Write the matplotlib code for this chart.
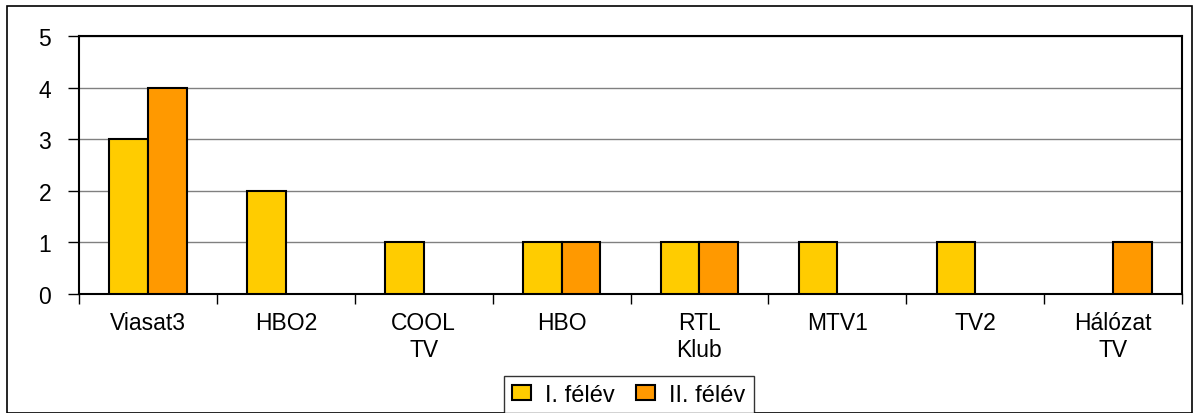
import matplotlib.pyplot as plt
import numpy as np
from matplotlib.patches import Rectangle

plt.rcParams['font.family'] = ['Liberation Sans', 'DejaVu Sans']

categories = ['Viasat3', 'HBO2', 'COOL\nTV', 'HBO', 'RTL\nKlub', 'MTV1', 'TV2', 'Hálózat\nTV']
felev1 = [3, 2, 1, 1, 1, 1, 1, 0]
felev2 = [4, 0, 0, 1, 1, 0, 0, 1]
series_names = ['I. félév', 'II. félév']
colors = ['#FFCC00', '#FF9900']

fig = plt.figure(figsize=(12, 4.14), dpi=100)
W, H = 1200, 414
# outer chart border
fig.patches.append(Rectangle((7 / W, 0.0), 1185 / W, 1 - 7 / H, transform=fig.transFigure,
                             fill=False, edgecolor='black', linewidth=1.2))

ax = fig.add_axes((79 / W, 1 - 295 / H, 1103 / W, 258 / H))
x = np.arange(len(categories))
w = 0.28
for vals, col, off, name in zip([felev1, felev2], colors, [-w / 2, w / 2], series_names):
    v = np.array(vals, dtype=float)
    mask = v > 0
    ax.bar(x[mask] + off, v[mask], width=w, color=col, edgecolor='black', linewidth=1.5,
           zorder=3, label=name)

ax.set_xlim(-0.5, len(categories) - 0.5)
ax.set_ylim(0, 5)
ax.set_yticks(range(6))
ax.yaxis.grid(True, color='#808080', linewidth=1, zorder=0)
ax.set_xticks(np.arange(len(categories) + 1) - 0.5, minor=False)
ax.set_xticklabels([])
ax.set_xticks(x, minor=True)
ax.set_xticklabels(categories, minor=True, fontsize=16.5, linespacing=1.25)
ax.tick_params(axis='x', which='minor', length=0, pad=12)
ax.tick_params(axis='x', which='major', length=7, width=1)
ax.tick_params(axis='y', labelsize=16.5, length=8, width=1, pad=12)
for s in ax.spines.values():
    s.set_linewidth(1.5)
    s.set_color('black')

leg = fig.legend(loc='center', bbox_to_anchor=(629 / W, 1 - 396 / H), ncol=2, fontsize=17,
                 frameon=True, fancybox=False, edgecolor='black', handlelength=0.8,
                 handleheight=0.6, handletextpad=0.6, columnspacing=0.9, borderpad=0.35)
leg.get_frame().set_linewidth(1)

fig.savefig('out.png', dpi=100)
